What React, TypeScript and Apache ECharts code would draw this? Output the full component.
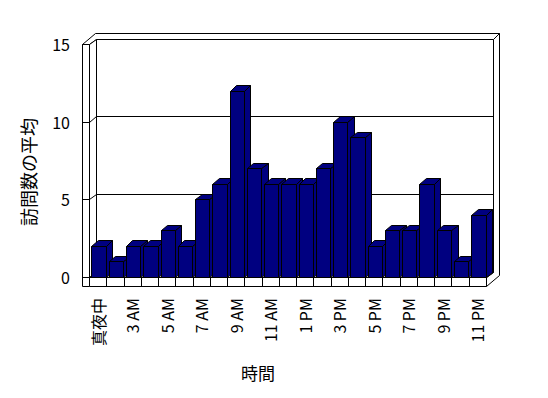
import React, { useEffect, useRef } from "react";
import * as echarts from "echarts";

const categories = [
  "真夜中", "2 AM", "3 AM", "4 AM", "5 AM", "6 AM", "7 AM", "8 AM", "9 AM", "10 AM", "11 AM",
  "12 PM", "1 PM", "2 PM", "3 PM", "4 PM", "5 PM", "6 PM", "7 PM", "8 PM", "9 PM", "10 PM", "11 PM",
];
const visitAverages = [2, 1, 2, 2, 3, 2, 5, 6, 12, 7, 6, 6, 6, 7, 10, 9, 2, 3, 3, 6, 3, 1, 4];
const yTicks = [0, 5, 10, 15];
const yAxisTitle = "訪問数の平均";
const xAxisTitle = "時間";

const FONT = "'Noto Sans CJK JP', 'Noto Sans', sans-serif";
const DX = 6.5;
const DY = -5.5;
const WALL = 7.5;
const FLOOR = 9;
const BAR_RATIO = 0.83;
const NAVY = "#000080";

const r = (x: number) => Math.round(x) + 0.5;
const pt = (x: number, y: number) => [r(x), r(y)];

export default function App() {
  const ref = useRef<HTMLDivElement>(null);

  useEffect(() => {
    if (!ref.current) return;
    const chart = echarts.init(ref.current, undefined, { renderer: "svg" });
    const yMax = yTicks[yTicks.length - 1];
    const stroke = { stroke: "#000", lineWidth: 1 };

    const frameRender = (params: any, api: any) => {
      const cs = params.coordSys;
      const xl = cs.x;
      const xr = cs.x + cs.width;
      const F = (v: number) => api.coord([0, v])[1];
      const yb = F(0);
      const yt = F(yMax);
      const band = api.size([1, 0])[0];
      const ch: any[] = [];
      const poly = (points: number[][], fill = "#fff") =>
        ch.push({ type: "polygon", shape: { points }, style: { fill, ...stroke } });
      const line = (x1: number, y1: number, x2: number, y2: number) =>
        ch.push({
          type: "line",
          shape: { x1: r(x1), y1: r(y1), x2: r(x2), y2: r(y2) },
          style: { ...stroke, fill: null },
        });

      // top of the L-shaped wall slab
      poly([
        pt(xl - WALL, yt), pt(xl, yt), pt(xl + DX, yt + DY), pt(xr + DX, yt + DY),
        pt(xr + 2 * DX, yt + 2 * DY), pt(xl - WALL + 2 * DX, yt + 2 * DY),
      ]);
      // back wall plane
      poly([pt(xl + DX, yt + DY), pt(xr + DX, yt + DY), pt(xr + DX, yb + DY), pt(xl + DX, yb + DY)]);
      // right side of back wall + floor
      poly([
        pt(xr, yb), pt(xr, yb + FLOOR), pt(xr + 2 * DX, yb + FLOOR + 2 * DY),
        pt(xr + 2 * DX, yt + 2 * DY), pt(xr + DX, yt + DY), pt(xr + DX, yb + DY),
      ]);
      // left wall inner face
      poly([pt(xl, yt), pt(xl + DX, yt + DY), pt(xl + DX, yb + DY), pt(xl, yb)]);
      // floor top
      poly([pt(xl, yb), pt(xr, yb), pt(xr + DX, yb + DY), pt(xl + DX, yb + DY)]);
      // left wall front face
      poly([pt(xl - WALL, yt), pt(xl, yt), pt(xl, yb + FLOOR), pt(xl - WALL, yb + FLOOR)]);
      // floor front face
      poly([pt(xl, yb), pt(xr, yb), pt(xr, yb + FLOOR), pt(xl, yb + FLOOR)]);
      for (let k = 1; k < categories.length; k++) {
        const x = xl + k * band;
        line(x, yb, x, yb + FLOOR);
      }
      // gridlines
      yTicks.forEach((v) => {
        const y = F(v);
        line(xl - WALL, y, xl, y);
        if (v > 0 && v < yMax) {
          line(xl, y, xl + DX, y + DY);
          line(xl + DX, y + DY, xr + DX, y + DY);
        }
      });
      return { type: "group", children: ch };
    };

    const barRender = (params: any, api: any) => {
      const i = api.value(0);
      const v = api.value(1);
      const top = api.coord([i, v]);
      const base = api.coord([i, 0]);
      const band = api.size([1, 0])[0];
      const w = band * BAR_RATIO;
      const x0 = top[0] - w / 2 + 1;
      const x1 = x0 + w;
      const yt = top[1];
      const yb = base[1];
      const style = { fill: NAVY, stroke: "#000", lineWidth: 1 };
      return {
        type: "group",
        children: [
          {
            type: "polygon",
            shape: { points: [pt(x1, yt), pt(x1 + DX, yt + DY), pt(x1 + DX, yb + DY), pt(x1, yb)] },
            style,
          },
          {
            type: "polygon",
            shape: { points: [pt(x0, yt), pt(x1, yt), pt(x1 + DX, yt + DY), pt(x0 + DX, yt + DY)] },
            style,
          },
          {
            type: "polygon",
            shape: { points: [pt(x0, yt), pt(x1, yt), pt(x1, yb), pt(x0, yb)] },
            style,
          },
        ],
      };
    };

    chart.setOption({
      animation: false,
      backgroundColor: "#fff",
      textStyle: { fontFamily: FONT },
      grid: { left: 89, top: 44, width: 397, height: 233, containLabel: false },
      xAxis: {
        type: "category",
        data: categories,
        boundaryGap: true,
        axisLine: { show: false },
        axisTick: { show: false },
        splitLine: { show: false },
        axisLabel: {
          interval: 1,
          rotate: 90,
          margin: 21,
          fontSize: 16,
          color: "#000",
          fontFamily: FONT,
        },
      },
      yAxis: {
        type: "value",
        min: 0,
        max: yTicks[yTicks.length - 1],
        interval: 5,
        axisLine: { show: false },
        axisTick: { show: false },
        splitLine: { show: false },
        axisLabel: { margin: 19, fontSize: 16, color: "#000", fontFamily: FONT },
      },
      graphic: [
        {
          type: "text",
          x: 28,
          y: 172,
          rotation: Math.PI / 2,
          style: {
            text: yAxisTitle,
            fontSize: 18,
            fontFamily: FONT,
            fill: "#000",
            textAlign: "center",
            textVerticalAlign: "middle",
          },
        },
        {
          type: "text",
          x: 258,
          y: 372,
          style: {
            text: xAxisTitle,
            fontSize: 17,
            fontFamily: FONT,
            fill: "#000",
            textAlign: "center",
            textVerticalAlign: "middle",
          },
        },
      ],
      series: [
        {
          type: "custom",
          z: 1,
          clip: false,
          renderItem: frameRender,
          data: [[0, 0]],
          encode: { x: 0, y: 1 },
          silent: true,
        },
        {
          type: "custom",
          z: 2,
          clip: false,
          renderItem: barRender,
          data: visitAverages.map((v, i) => [i, v]),
          encode: { x: 0, y: 1 },
        },
      ],
    });

    return () => chart.dispose();
  }, []);

  return <div ref={ref} style={{ width: 548, height: 398, margin: -8 }} />;
}
